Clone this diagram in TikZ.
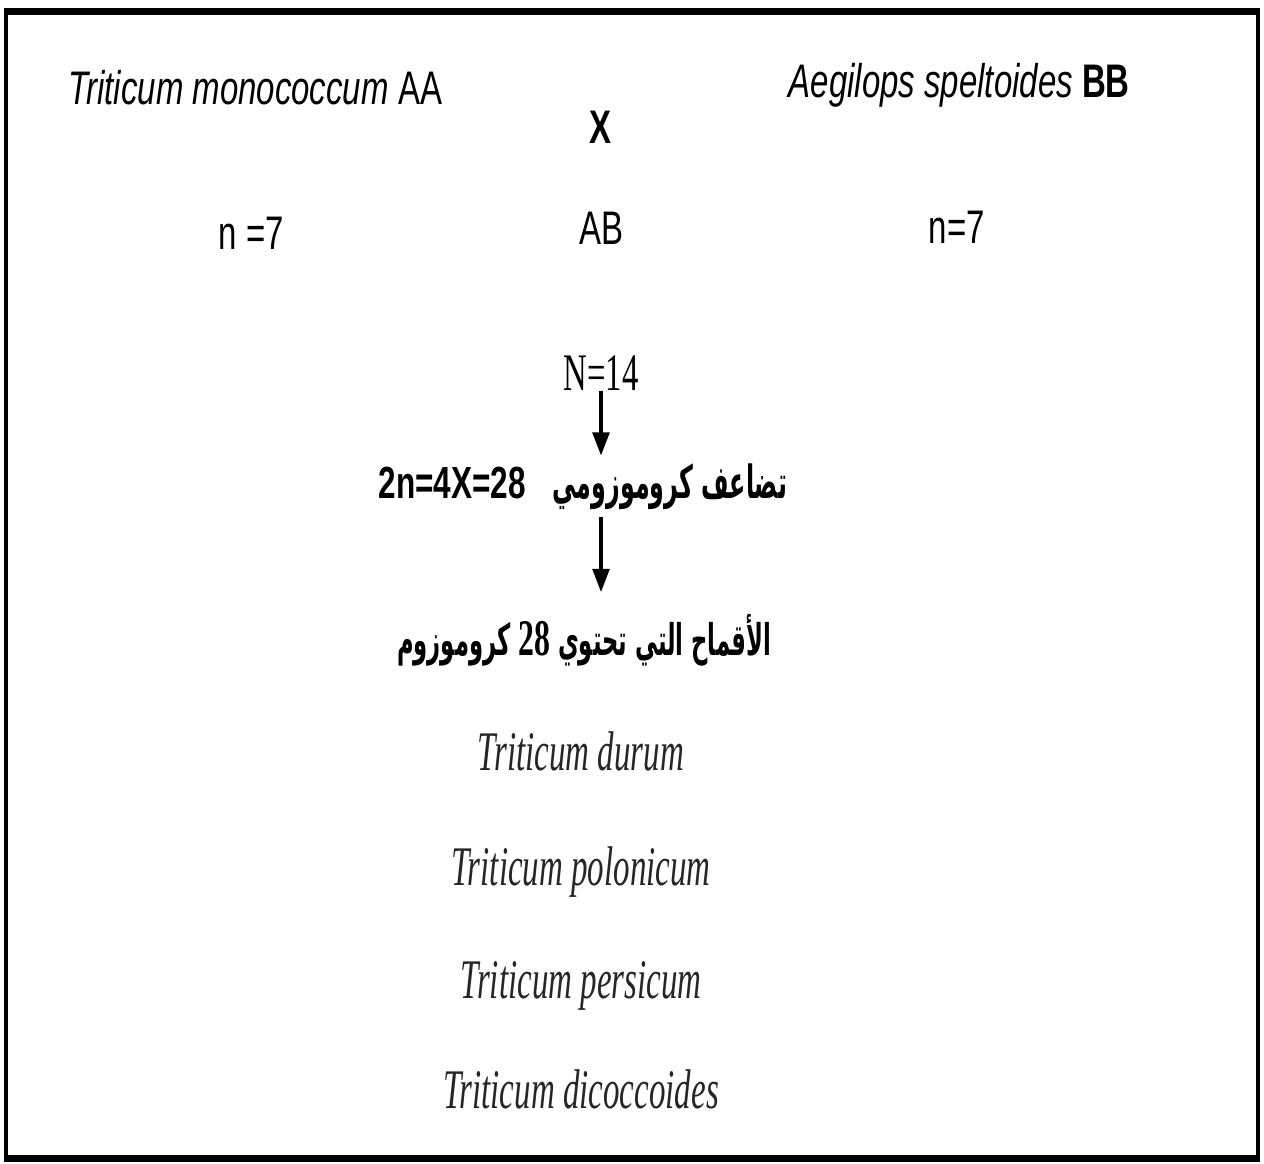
\documentclass[tikz,border=0pt]{standalone}
\usepackage{fontspec}
\setmainfont{Liberation Serif}
\newfontfamily\labelfont[FakeStretch=0.70]{Liberation Sans}
\newfontfamily\numfont[FakeStretch=0.62]{Liberation Serif}
\newfontfamily\speciesfont[FakeStretch=0.59]{Liberation Serif}
\newfontfamily\arabicfont[Script=Arabic,FakeStretch=0.52]{DejaVu Sans}
\TeXXeTstate=1
\usetikzlibrary{arrows.meta, positioning}
\tikzset{
  parentlabel/.style={font=\labelfont\fontsize{13.4}{16}\selectfont,
                      inner sep=0pt, anchor=base west},
  midlabel/.style={parentlabel, anchor=base},
  steplabel/.style={inner sep=0pt, anchor=base},
  species/.style={font=\speciesfont\itshape\fontsize{15.9}{19}\selectfont,
                  text=black!85, inner sep=0pt, anchor=base},
  arrow/.style={-{Triangle[width=4.8pt, length=6.6pt]}, line width=0.9pt},
}

\begin{document}
\begin{tikzpicture}[x=0.01cm, y=-0.01cm]
  \useasboundingbox (0,0) rectangle (1264,1164);
  % Frame
  \draw[line width=0.04cm] (6,12) rectangle (1258,1158);
  \draw[line width=0.07cm] (4,12) -- (1260,12);
  \draw[line width=0.07cm] (4,1158) -- (1260,1158);

  % Parents
  \node[parentlabel] (mono) at (68,105)
    {\itshape Triticum monococcum \upshape AA};
  \node[parentlabel] (spelt) at (788,98)
    {\itshape Aegilops speltoides \upshape\bfseries BB};
  \node[midlabel, font=\labelfont\bfseries\fontsize{13.4}{16}\selectfont]
    (cross) at (600,144) {X};

  % Chromosome numbers
  \node[parentlabel] (nmono) at (218,250) {n =7};
  \node[midlabel] (hybrid) at (601,245) {AB};
  \node[parentlabel] (nspelt) at (928,244) {n=7};

  % Doubling
  \node[steplabel, font=\numfont\fontsize{15}{18}\selectfont] (n14)
    at (601,390) {N=14};
  \node[steplabel, anchor=base west, inner sep=2pt] (tetra) at (371,498)
    {\labelfont\bfseries\fontsize{12.8}{15}\selectfont 2n=4X=28\hspace{0.6em}%
     {\arabicfont\fontsize{13}{15}\selectfont\beginR تضاعف كروموزومي\endR}};
  \node[steplabel, inner sep=2pt] (wheat) at (584,655)
    {\arabicfont\bfseries\fontsize{12.4}{15}\selectfont\beginR الأقماح التي تحتوي
     \beginL{\numfont\bfseries\fontsize{14.6}{18}\selectfont 28}\endL{} كروموزوم\endR};

  \draw[arrow] (n14.south) -- (n14.south |- tetra.north);
  \draw[arrow, shorten >=4pt] (n14.south |- tetra.south)
    -- (n14.south |- wheat.north);

  % Tetraploid wheats
  \node[species] (durum) at (581,770) {Triticum durum};
  \node[species, below=1.15cm of durum.base, anchor=base] (polon)
    {Triticum polonicum};
  \node[species, below=1.13cm of polon.base, anchor=base] (persic)
    {Triticum persicum};
  \node[species, below=1.1cm of persic.base, anchor=base] (dicoc)
    {Triticum dicoccoides};
\end{tikzpicture}
\end{document}
